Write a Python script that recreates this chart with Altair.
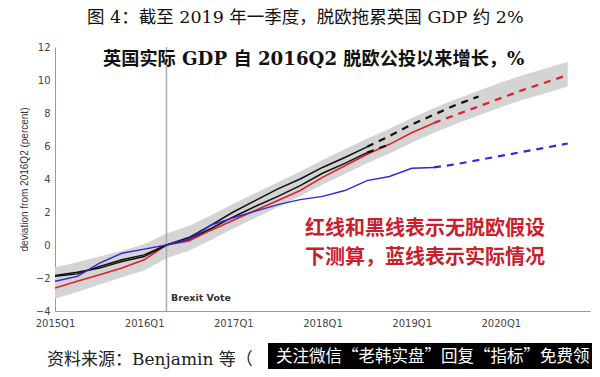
import altair as alt
import pandas as pd

# ---------------- data ----------------
quarters = [
    "2015Q1", "2015Q2", "2015Q3", "2015Q4",
    "2016Q1", "2016Q2", "2016Q3", "2016Q4",
    "2017Q1", "2017Q2", "2017Q3", "2017Q4",
    "2018Q1", "2018Q2", "2018Q3", "2018Q4",
    "2019Q1", "2019Q2", "2019Q3", "2019Q4",
    "2020Q1", "2020Q2", "2020Q3", "2020Q4",
]

band_lo = [-3.25, -2.85, -2.4, -1.95, -1.55, -0.8, -0.35, 0.3, 1.0, 1.65, 2.3, 2.95,
           3.65, 4.3, 4.95, 5.55, 6.2, 6.8, 7.35, 7.85, 8.35, 8.8, 9.2, 9.6]
band_hi = [-1.35, -1.05, -0.7, -0.35, 0.05, 0.7, 1.15, 1.8, 2.5, 3.15, 3.8, 4.45,
           5.15, 5.8, 6.45, 7.05, 7.7, 8.3, 8.85, 9.35, 9.85, 10.3, 10.7, 11.1]

red_solid = [-2.6, -2.2, -1.8, -1.4, -0.9, 0.0, 0.25, 0.9, 1.5, 2.1, 2.7, 3.3,
             4.1, 4.8, 5.5, 6.1, 6.8, 7.4]
red_dash = [7.4, 7.9, 8.4, 8.9, 9.4, 9.85, 10.3]            # from 2019Q2

blackA_solid = [-1.9, -1.75, -1.3, -0.9, -0.6, 0.0, 0.45, 1.2, 2.0, 2.7, 3.4, 4.0,
                4.7, 5.3, 5.95]
blackA_dash = [5.95, 6.6, 7.3, 7.9, 8.5, 9.0]               # from 2018Q3

blackB_solid = [-1.85, -1.65, -1.4, -1.0, -0.7, 0.0, 0.35, 1.0, 1.7, 2.35, 2.95, 3.6,
                4.35, 4.95, 5.6]
blackB_dash = [5.6, 6.1]                                    # from 2018Q3

blue_solid = [-2.2, -1.9, -1.1, -0.5, -0.25, 0.0, 0.35, 1.2, 1.65, 2.05, 2.45, 2.75,
              2.95, 3.3, 3.9, 4.15, 4.65, 4.7]
blue_dash = [4.7, 4.9, 5.15, 5.4, 5.65, 5.9, 6.15]          # from 2019Q2

brexit_quarter = "2016Q2"
tick_years = [2015, 2016, 2017, 2018, 2019, 2020]
y_ticks = [-4, -2, 0, 2, 4, 6, 8, 10, 12]

title_text = "图 4：截至 2019 年一季度，脱欧拖累英国 GDP 约 2%"
subtitle_text = "英国实际 GDP 自 2016Q2 脱欧公投以来增长，%"
note_line1 = "红线和黑线表示无脱欧假设"
note_line2 = "下测算，蓝线表示实际情况"
source_text = "资料来源：Benjamin 等（"
watermark_text = "关注微信“老韩实盘”回复“指标”免费领"


def qpos(label):
    return int(label[:4]) + (int(label[5]) - 1) / 4


def frame(values, start):
    return pd.DataFrame({
        "t": [qpos(q) for q in quarters[start:start + len(values)]],
        "v": values,
    })


band_df = pd.DataFrame({"t": [qpos(q) for q in quarters], "lo": band_lo, "hi": band_hi})

W, H = 535, 264
SERIF = "DejaVu Serif, Noto Sans CJK SC"
CJK = "Noto Sans CJK SC"

x_scale = alt.Scale(domain=[2015, 2021], nice=False, zero=False)
y_scale = alt.Scale(domain=[-4, 12], nice=False, zero=False)

x_axis = alt.Axis(
    values=tick_years, format="d", labelExpr="datum.label + 'Q1'", title=None,
    grid=False, ticks=False, domainColor="#9a9a9a", domainWidth=1,
    labelFlush=False, labelOverlap=False,
    labelFont="DejaVu Sans", labelFontSize=10, labelColor="#444444", labelPadding=7,
)
y_axis = alt.Axis(
    values=y_ticks, title="deviation from 2016Q2 (percent)", grid=False, ticks=False,
    domainColor="#9a9a9a", domainWidth=1, labelFlush=False, labelOverlap=False,
    tickCount=9,
    labelFont="DejaVu Sans", labelFontSize=10, labelColor="#444444", labelPadding=5,
    titleFont="Liberation Sans Narrow, Liberation Sans", titleFontSize=10,
    titleFontWeight="normal", titleColor="#333333",
    titleX=-31, titleY=H / 2, titleAngle=270, titleAlign="center", titleBaseline="middle",
)


def X(field):
    return alt.X(field, scale=x_scale, axis=x_axis)


def Y(field):
    return alt.Y(field, scale=y_scale, axis=y_axis)


band_layer = alt.Chart(band_df).mark_area(color="#d4d4d4", opacity=1).encode(
    x=X("t:Q"), y=Y("lo:Q"), y2="hi:Q",
)

rule_layer = alt.Chart(pd.DataFrame({"t": [qpos(brexit_quarter)]})).mark_rule(
    color="#ababab", strokeWidth=1.5
).encode(x=X("t:Q"))


def line(values, start, color, dashed, width):
    kw = dict(color=color, strokeWidth=width)
    if dashed:
        kw["strokeDash"] = [7, 6]
    return alt.Chart(frame(values, start)).mark_line(**kw).encode(
        x=X("t:Q"), y=Y("v:Q"),
    )


RED, BLACK, BLUE = "#e32028", "#111111", "#2a2ad6"
lines = [
    line(red_solid, 0, RED, False, 1.6),
    line(red_dash, 17, RED, True, 2.2),
    line(blackB_solid, 0, BLACK, False, 1.5),
    line(blackB_dash, 14, BLACK, True, 2.2),
    line(blackA_solid, 0, BLACK, False, 1.5),
    line(blackA_dash, 14, BLACK, True, 2.2),
    line(blue_solid, 0, BLUE, False, 1.4),
    line(blue_dash, 17, BLUE, True, 2.2),
]


def text(s, x, y, **kw):
    return alt.Chart(pd.DataFrame({"s": [s]})).mark_text(**kw).encode(
        x=alt.value(x), y=alt.value(y), text="s:N"
    )


texts = [
    text(title_text, 32, -29, font=SERIF, fontSize=17.5, color="#111111",
         align="left", baseline="middle"),
    text(subtitle_text, 48, 13, font=SERIF, fontSize=18.2, fontWeight="bold",
         color="#111111", align="left", baseline="middle"),
    text(note_line1, 250, 182, font=CJK, fontSize=20, fontWeight="bold",
         color="#c8202c", align="left", baseline="middle"),
    text(note_line2, 250, 211, font=CJK, fontSize=20, fontWeight="bold",
         color="#c8202c", align="left", baseline="middle"),
    text("Brexit Vote", 116, 251, font="DejaVu Sans", fontSize=9.5, fontWeight="bold",
         color="#333333", align="left", baseline="middle"),
    text(source_text, -8, 313, font=SERIF, fontSize=17, color="#222222",
         align="left", baseline="middle"),
]

box = alt.Chart(pd.DataFrame({"k": [0]})).mark_rect(color="#000000").encode(
    x=alt.value(213), x2=alt.value(537), y=alt.value(296), y2=alt.value(322)
)
wm = text(watermark_text, 221, 310, font=CJK, fontSize=16.5, color="#ffffff",
          align="left", baseline="middle")

chart = alt.layer(
    band_layer, rule_layer, *lines, *texts, box, wm
).properties(
    width=W, height=H,
    padding={"left": 47, "top": 39, "right": 2, "bottom": 58},
    autosize=alt.AutoSizeParams(type="none"),
    background="white",
).configure_view(stroke=None)

chart.save("out.html", embed_options={"renderer": "svg", "actions": False})
